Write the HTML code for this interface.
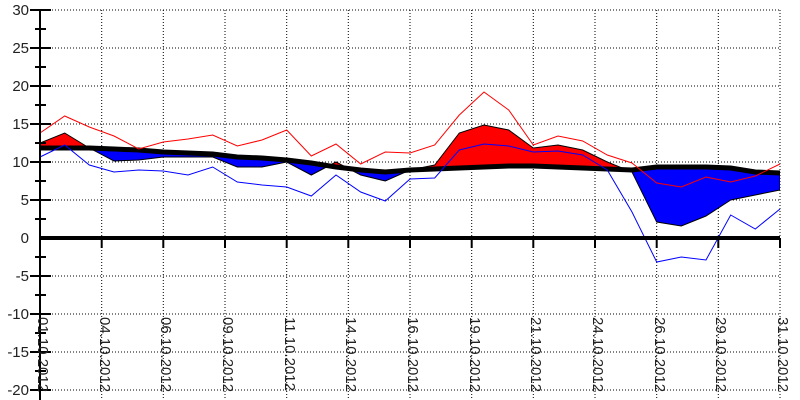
<!DOCTYPE html>
<html><head><meta charset="utf-8"><style>body{margin:0;background:#fff}svg{display:block}</style></head><body>
<svg width="800" height="400" xmlns="http://www.w3.org/2000/svg" font-family="Liberation Sans, sans-serif">
<defs>
<clipPath id="above"><polygon points="40,0 40,148 64.7,148 89.3,148 114,149 138.7,150 163.3,152 188,153 212.7,154 237.3,157 262,158 286.7,160 311.3,163 336,167 360.7,170 385.3,172 410,170 434.7,169 459.3,168 484,167 508.7,166 533.3,166 558,167 582.7,168 607.3,169 632,170 656.7,167 681.3,167 706,167 730.7,168 755.3,172 780,173 780,0"/></clipPath>
<clipPath id="below"><polygon points="40,400 40,148 64.7,148 89.3,148 114,149 138.7,150 163.3,152 188,153 212.7,154 237.3,157 262,158 286.7,160 311.3,163 336,167 360.7,170 385.3,172 410,170 434.7,169 459.3,168 484,167 508.7,166 533.3,166 558,167 582.7,168 607.3,169 632,170 656.7,167 681.3,167 706,167 730.7,168 755.3,172 780,173 780,400"/></clipPath>
</defs>
<g stroke="#000" stroke-width="1" stroke-dasharray="1,2">
<line x1="40" y1="10" x2="780" y2="10"/><line x1="40" y1="48" x2="780" y2="48"/><line x1="40" y1="86" x2="780" y2="86"/><line x1="40" y1="124" x2="780" y2="124"/><line x1="40" y1="162" x2="780" y2="162"/><line x1="40" y1="200" x2="780" y2="200"/><line x1="40" y1="276" x2="780" y2="276"/><line x1="40" y1="314" x2="780" y2="314"/><line x1="40" y1="352" x2="780" y2="352"/><line x1="40" y1="390" x2="780" y2="390"/>
<line x1="101.7" y1="10" x2="101.7" y2="400"/><line x1="163.3" y1="10" x2="163.3" y2="400"/><line x1="225" y1="10" x2="225" y2="400"/><line x1="286.7" y1="10" x2="286.7" y2="400"/><line x1="348.3" y1="10" x2="348.3" y2="400"/><line x1="410" y1="10" x2="410" y2="400"/><line x1="471.7" y1="10" x2="471.7" y2="400"/><line x1="533.3" y1="10" x2="533.3" y2="400"/><line x1="595" y1="10" x2="595" y2="400"/><line x1="656.7" y1="10" x2="656.7" y2="400"/><line x1="718.3" y1="10" x2="718.3" y2="400"/><line x1="780" y1="10" x2="780" y2="400"/>
</g>
<polygon clip-path="url(#above)" fill="#f00" stroke="#000" stroke-width="1" points="40,143 64.7,133 89.3,148 114,161 138.7,160 163.3,157 188,157 212.7,157 237.3,167 262,167 286.7,162 311.3,175 336,162 360.7,175 385.3,181 410,170 434.7,165 459.3,133 484,125 508.7,130 533.3,148 558,145 582.7,150 607.3,162 632,172 656.7,222 681.3,226 706,216 730.7,200 755.3,195 780,190 780,173 755.3,172 730.7,168 706,167 681.3,167 656.7,167 632,170 607.3,169 582.7,168 558,167 533.3,166 508.7,166 484,167 459.3,168 434.7,169 410,170 385.3,172 360.7,170 336,167 311.3,163 286.7,160 262,158 237.3,157 212.7,154 188,153 163.3,152 138.7,150 114,149 89.3,148 64.7,148 40,148"/>
<polygon clip-path="url(#below)" fill="#00f" stroke="#000" stroke-width="1" points="40,143 64.7,133 89.3,148 114,161 138.7,160 163.3,157 188,157 212.7,157 237.3,167 262,167 286.7,162 311.3,175 336,162 360.7,175 385.3,181 410,170 434.7,165 459.3,133 484,125 508.7,130 533.3,148 558,145 582.7,150 607.3,162 632,172 656.7,222 681.3,226 706,216 730.7,200 755.3,195 780,190 780,173 755.3,172 730.7,168 706,167 681.3,167 656.7,167 632,170 607.3,169 582.7,168 558,167 533.3,166 508.7,166 484,167 459.3,168 434.7,169 410,170 385.3,172 360.7,170 336,167 311.3,163 286.7,160 262,158 237.3,157 212.7,154 188,153 163.3,152 138.7,150 114,149 89.3,148 64.7,148 40,148"/>
<polyline fill="none" stroke="#000" stroke-width="5" points="40,148 64.7,148 89.3,148 114,149 138.7,150 163.3,152 188,153 212.7,154 237.3,157 262,158 286.7,160 311.3,163 336,167 360.7,170 385.3,172 410,170 434.7,169 459.3,168 484,167 508.7,166 533.3,166 558,167 582.7,168 607.3,169 632,170 656.7,167 681.3,167 706,167 730.7,168 755.3,172 780,173"/>
<polyline fill="none" stroke="#f00" stroke-width="1" points="40,133 64.7,116 89.3,127 114,136 138.7,149 163.3,142 188,139 212.7,135 237.3,146 262,140 286.7,130 311.3,156 336,144 360.7,164 385.3,152 410,153 434.7,145 459.3,115 484,92 508.7,110 533.3,145 558,136 582.7,141 607.3,155 632,163 656.7,183 681.3,187 706,177 730.7,182 755.3,176 780,164"/>
<polyline fill="none" stroke="#00f" stroke-width="1" points="40,157 64.7,145 89.3,165 114,172 138.7,170 163.3,171 188,175 212.7,167 237.3,182 262,185 286.7,187 311.3,196 336,175 360.7,192 385.3,201 410,179 434.7,178 459.3,150 484,144 508.7,146 533.3,152 558,151 582.7,155 607.3,170 632,212 656.7,262 681.3,257 706,260 730.7,215 755.3,229 780,209"/>
<line x1="40" y1="238" x2="780" y2="238" stroke="#000" stroke-width="4"/>
<g stroke="#000" stroke-width="2">
<line x1="40" y1="10" x2="40" y2="400"/>
<line x1="30" y1="10" x2="51" y2="10"/><line x1="30" y1="48" x2="51" y2="48"/><line x1="30" y1="86" x2="51" y2="86"/><line x1="30" y1="124" x2="51" y2="124"/><line x1="30" y1="162" x2="51" y2="162"/><line x1="30" y1="200" x2="51" y2="200"/><line x1="30" y1="276" x2="51" y2="276"/><line x1="30" y1="314" x2="51" y2="314"/><line x1="30" y1="352" x2="51" y2="352"/><line x1="30" y1="390" x2="51" y2="390"/>
<line x1="35" y1="29" x2="46" y2="29"/><line x1="35" y1="67" x2="46" y2="67"/><line x1="35" y1="105" x2="46" y2="105"/><line x1="35" y1="143" x2="46" y2="143"/><line x1="35" y1="181" x2="46" y2="181"/><line x1="35" y1="219" x2="46" y2="219"/><line x1="35" y1="257" x2="46" y2="257"/><line x1="35" y1="295" x2="46" y2="295"/><line x1="35" y1="333" x2="46" y2="333"/><line x1="35" y1="371" x2="46" y2="371"/>
<line x1="101.7" y1="238" x2="101.7" y2="248"/><line x1="163.3" y1="238" x2="163.3" y2="248"/><line x1="225" y1="238" x2="225" y2="248"/><line x1="286.7" y1="238" x2="286.7" y2="248"/><line x1="348.3" y1="238" x2="348.3" y2="248"/><line x1="410" y1="238" x2="410" y2="248"/><line x1="471.7" y1="238" x2="471.7" y2="248"/><line x1="533.3" y1="238" x2="533.3" y2="248"/><line x1="595" y1="238" x2="595" y2="248"/><line x1="656.7" y1="238" x2="656.7" y2="248"/><line x1="718.3" y1="238" x2="718.3" y2="248"/><line x1="780" y1="238" x2="780" y2="248"/>
</g>
<g font-size="15" fill="#222" text-anchor="end">
<text x="29" y="15">30</text><text x="29" y="53">25</text><text x="29" y="91">20</text><text x="29" y="129">15</text><text x="29" y="167">10</text><text x="29" y="205">5</text><text x="29" y="243">0</text><text x="29" y="281">-5</text><text x="29" y="319">-10</text><text x="29" y="357">-15</text><text x="29" y="395">-20</text>
</g>
<g font-size="15" fill="#222">
<text transform="translate(38,317) rotate(90)">01.10.2012</text>
<text transform="translate(100,317) rotate(90)">04.10.2012</text>
<text transform="translate(161,317) rotate(90)">06.10.2012</text>
<text transform="translate(223,317) rotate(90)">09.10.2012</text>
<text transform="translate(285,317) rotate(90)">11.10.2012</text>
<text transform="translate(346,317) rotate(90)">14.10.2012</text>
<text transform="translate(408,317) rotate(90)">16.10.2012</text>
<text transform="translate(470,317) rotate(90)">19.10.2012</text>
<text transform="translate(531,317) rotate(90)">21.10.2012</text>
<text transform="translate(593,317) rotate(90)">24.10.2012</text>
<text transform="translate(655,317) rotate(90)">26.10.2012</text>
<text transform="translate(716,317) rotate(90)">29.10.2012</text>
<text transform="translate(778,317) rotate(90)">31.10.2012</text>
</g>
</svg>
</body></html>
